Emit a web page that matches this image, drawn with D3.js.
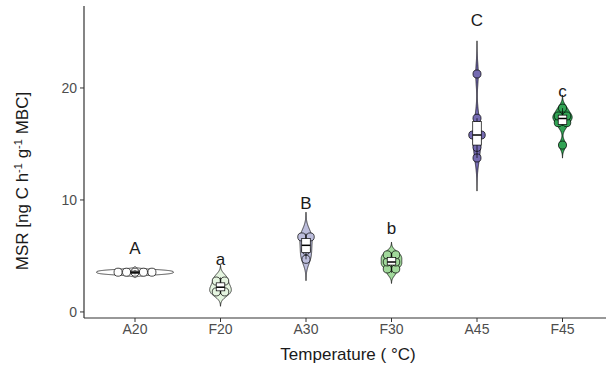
<!DOCTYPE html>
<html>
<head>
<meta charset="utf-8">
<script src="https://d3js.org/d3.v7.min.js"></script>
<style>
  body { margin: 0; background: #fff; }
  svg text { font-family: "Liberation Sans", Arial, sans-serif; }
</style>
</head>
<body>
<svg></svg>
<script>
    // replicate values (MSR, ng C h-1 g-1 MBC)
    var categories = ["A20", "F20", "A30", "F30", "A45", "F45"];
    var msrA20 = [3.35, 3.45, 3.55, 3.65, 3.75];
    var msrF20 = [1.6, 1.98, 2.44, 3.08];
    var msrA30 = [4.7, 5.5, 6.4, 7.0];
    var msrF30 = [3.5, 4.18, 4.21, 4.71, 4.92, 5.28];
    var msrA45 = [13.75, 14.7, 15.5, 16.1, 17.3, 21.25];
    var msrF45 = [14.9, 16.6, 17.2, 17.35, 17.65, 18.2];

    // significance letters and where they sit
    var letters = ["A", "a", "B", "b", "C", "c"];
    var letterY = [5.18, 4.2, 9.2, 6.96, 25.5, 19.2];

    var yTicks = [0, 10, 20];
    var yDomain = [-0.54, 27.32];

    var groups = [msrA20, msrF20, msrA30, msrF30, msrA45, msrF45];
    var fills = ["#ffffff", "#e5f5e0", "#bcbddc", "#a1d99b", "#756bb1", "#31a354"];

    var width = 606;
    var height = 373;
    var binwidth = 0.7;
    var dotsize = 1.08;

    var svg = d3.select('svg')
        .attr('width', width)
        .attr('height', height);

    var x = d3.scalePoint().domain(categories).range([135, 562.5]);
    var y = d3.scaleLinear().domain(yDomain).range([318, 6]);
    var step = x.step();

    // R's bw.nrd0 + gaussian kde, cut = 3 (geom_violin trim = FALSE)
    function kde(vals) {
        var s = vals.slice().sort(d3.ascending);
        var sd = d3.deviation(s);
        var iqr = d3.quantileSorted(s, 0.75) - d3.quantileSorted(s, 0.25);
        var bw = 0.9 * Math.min(sd, iqr / 1.34) * Math.pow(s.length, -0.2);
        var lo = s[0] - 3 * bw, hi = s[s.length - 1] + 3 * bw;
        var pts = [];
        for (var i = 0; i < 512; i++) {
            var v = lo + (hi - lo) * i / 511;
            var d = d3.sum(s, function (xi) {
                var z = (v - xi) / bw;
                return Math.exp(-0.5 * z * z);
            }) / (s.length * bw * Math.sqrt(2 * Math.PI));
            pts.push({v: v, d: d});
        }
        return pts;
    }

    // ggplot dotdensity binning
    function dotBins(vals) {
        var s = vals.slice().sort(d3.ascending);
        var bins = [], end = -Infinity, cur;
        s.forEach(function (v) {
            if (v >= end - 1e-9) {
                cur = [];
                bins.push(cur);
                end = v + binwidth;
            }
            cur.push(v);
        });
        return bins.map(function (b) {
            return {center: (b[0] + b[b.length - 1]) / 2, n: b.length};
        });
    }

    var dens = groups.map(kde);
    var maxD = d3.max(dens, function (p) { return d3.max(p, function (d) { return d.d; }); });

    // axes
    var axisCol = "#333333";
    svg.append('line')
        .attr('x1', 84).attr('x2', width).attr('y1', 318).attr('y2', 318)
        .attr('stroke', axisCol).attr('stroke-width', 1.2);
    svg.append('line')
        .attr('x1', 84).attr('x2', 84).attr('y1', 6).attr('y2', 318)
        .attr('stroke', axisCol).attr('stroke-width', 1.2);

    yTicks.forEach(function (t) {
        svg.append('line')
            .attr('x1', 80).attr('x2', 84).attr('y1', y(t)).attr('y2', y(t))
            .attr('stroke', axisCol);
        svg.append('text')
            .attr('x', 77).attr('y', y(t)).attr('dy', '0.35em')
            .attr('text-anchor', 'end')
            .attr('font-size', 14).attr('fill', '#4d4d4d')
            .text(t);
    });

    categories.forEach(function (c) {
        svg.append('line')
            .attr('x1', x(c)).attr('x2', x(c)).attr('y1', 318).attr('y2', 322)
            .attr('stroke', axisCol);
        svg.append('text')
            .attr('x', x(c)).attr('y', 334)
            .attr('text-anchor', 'middle')
            .attr('font-size', 14).attr('fill', '#4d4d4d')
            .text(c);
    });

    svg.append('text')
        .attr('x', 348).attr('y', 360)
        .attr('text-anchor', 'middle')
        .attr('font-size', 17).attr('fill', '#1a1a1a')
        .text('Temperature ( \u00B0C)');

    var yt = svg.append('text')
        .attr('transform', 'translate(22,181) rotate(-90)')
        .attr('dy', '0.35em')
        .attr('text-anchor', 'middle')
        .attr('font-size', 17).attr('fill', '#1a1a1a');
    yt.append('tspan').text('MSR [ng C h');
    yt.append('tspan').attr('baseline-shift', 'super').attr('font-size', '65%').text('-1');
    yt.append('tspan').text(' g');
    yt.append('tspan').attr('baseline-shift', 'super').attr('font-size', '65%').text('-1');
    yt.append('tspan').text(' MBC]');

    // violins (scale = "area")
    categories.forEach(function (c, i) {
        var cx = x(c);
        var area = d3.area()
            .y(function (d) { return y(d.v); })
            .x0(function (d) { return cx - d.d / maxD * 0.45 * step; })
            .x1(function (d) { return cx + d.d / maxD * 0.45 * step; });
        svg.append('path')
            .attr('d', area(dens[i]))
            .attr('fill', fills[i])
            .attr('stroke', '#000')
            .attr('stroke-width', 0.7);
    });

    // dots
    var dotD = Math.abs(y(binwidth) - y(0)) * dotsize;
    categories.forEach(function (c, i) {
        dotBins(groups[i]).forEach(function (b) {
            for (var j = 0; j < b.n; j++) {
                svg.append('circle')
                    .attr('cx', x(c) + (j - (b.n - 1) / 2) * dotD)
                    .attr('cy', y(b.center))
                    .attr('r', dotD / 2 - 0.2)
                    .attr('fill', fills[i])
                    .attr('stroke', '#000')
                    .attr('stroke-width', 0.7);
            }
        });
    });

    // narrow boxplots
    var bw2 = 0.05 * step;
    categories.forEach(function (c, i) {
        var s = groups[i].slice().sort(d3.ascending);
        var q1 = d3.quantileSorted(s, 0.25), med = d3.quantileSorted(s, 0.5), q3 = d3.quantileSorted(s, 0.75);
        var iqr = q3 - q1;
        var lo = d3.min(s.filter(function (v) { return v >= q1 - 1.5 * iqr; }));
        var hi = d3.max(s.filter(function (v) { return v <= q3 + 1.5 * iqr; }));
        var cx = x(c);
        var g = svg.append('g').attr('stroke', '#000');
        g.append('line').attr('x1', cx).attr('x2', cx).attr('y1', y(q3)).attr('y2', y(hi)).attr('stroke-width', 0.7);
        g.append('line').attr('x1', cx).attr('x2', cx).attr('y1', y(q1)).attr('y2', y(lo)).attr('stroke-width', 0.7);
        g.append('rect')
            .attr('x', cx - bw2).attr('width', 2 * bw2)
            .attr('y', y(q3)).attr('height', y(q1) - y(q3))
            .attr('fill', '#fff').attr('stroke-width', 0.7);
        g.append('line').attr('x1', cx - bw2).attr('x2', cx + bw2).attr('y1', y(med)).attr('y2', y(med)).attr('stroke-width', 1.5);
    });

    // letters
    categories.forEach(function (c, i) {
        svg.append('text')
            .attr('x', x(c)).attr('y', y(letterY[i]))
            .attr('text-anchor', 'middle')
            .attr('font-size', 17).attr('fill', '#1a1a1a')
            .text(letters[i]);
    });
</script>
</body>
</html>
